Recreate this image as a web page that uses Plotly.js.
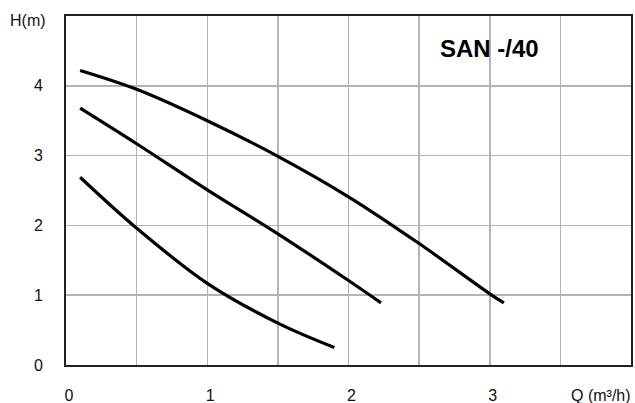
<!DOCTYPE html>
<html>
<head>
<meta charset="utf-8">
<script src="https://cdn.plot.ly/plotly-3.0.1.min.js"></script>
<style>html,body{margin:0;padding:0;background:#fff}#chart{width:635px;height:403px}</style>
</head>
<body>
<div id="chart"></div>
<script>
// Flow Q (m³/h) and head H (m) for each speed curve
const curveHighQ = [0.10, 0.5, 1.0, 1.5, 2.0, 2.5, 3.0, 3.10];
const curveHighH = [4.22, 3.95, 3.50, 2.99, 2.41, 1.74, 1.02, 0.89];
const curveMidQ = [0.10, 0.5, 1.0, 1.5, 2.0, 2.23];
const curveMidH = [3.68, 3.17, 2.51, 1.88, 1.21, 0.89];
const curveLowQ = [0.10, 0.5, 1.0, 1.5, 1.90];
const curveLowH = [2.69, 1.96, 1.17, 0.60, 0.25];

const xTickVals = [0, 0.5, 1, 1.5, 2, 2.5, 3, 3.5];
const xTickText = ['0', '', '1', '', '2', '', '3', ''];
const yTickVals = [0, 1, 2, 3, 4];
const yTickText = ['0', '1', '2', '3', '4'];
const titleText = 'SAN -/40';
const xLabel = 'Q (m³/h)';
const yLabel = 'H(m)';

const FONT = 'Liberation Sans, Arial, sans-serif';
const lineStyle = {color: '#000', width: 3.2, shape: 'spline', smoothing: 1};

const traces = [
  {x: curveHighQ, y: curveHighH},
  {x: curveMidQ, y: curveMidH},
  {x: curveLowQ, y: curveLowH}
].map(t => Object.assign(t, {type: 'scatter', mode: 'lines', line: lineStyle, hoverinfo: 'skip'}));

const layout = {
  width: 635, height: 403,
  margin: {l: 66, r: 4, t: 16, b: 38},
  paper_bgcolor: '#fff', plot_bgcolor: '#fff',
  showlegend: false,
  font: {family: FONT, size: 16, color: '#111'},
  xaxis: {
    range: [0, 4], tickvals: xTickVals, ticktext: xTickText,
    showgrid: true, gridcolor: '#b4b4b4', gridwidth: 1.5,
    showline: true, linecolor: '#222', linewidth: 2, mirror: true,
    zeroline: false, ticks: '', ticklabelstandoff: 15, ticklabelshift: 3,
    tickfont: {family: FONT, size: 16, color: '#111'}
  },
  yaxis: {
    range: [0, 5], tickvals: yTickVals, ticktext: yTickText,
    showgrid: true, gridcolor: '#b4b4b4', gridwidth: 1.5,
    showline: true, linecolor: '#222', linewidth: 2, mirror: true,
    zeroline: false, ticks: '', ticklabelstandoff: 18,
    tickfont: {family: FONT, size: 16, color: '#111'}
  },
  annotations: [
    {text: '<b>' + titleText + '</b>', xref: 'paper', yref: 'paper', x: 0.75, y: 0.906,
     xanchor: 'center', yanchor: 'middle', showarrow: false,
     font: {family: FONT, size: 24, color: '#000'}},
    {text: yLabel, xref: 'paper', yref: 'paper', x: -0.067, y: 0.988,
     xanchor: 'center', yanchor: 'middle', showarrow: false,
     font: {family: FONT, size: 16, color: '#111'}},
    {text: xLabel, xref: 'paper', yref: 'paper', x: 0.947, y: -0.086,
     xanchor: 'center', yanchor: 'middle', showarrow: false,
     font: {family: FONT, size: 16, color: '#111'}}
  ]
};

Plotly.newPlot('chart', traces, layout, {displayModeBar: false, staticPlot: true});
</script>
</body>
</html>
